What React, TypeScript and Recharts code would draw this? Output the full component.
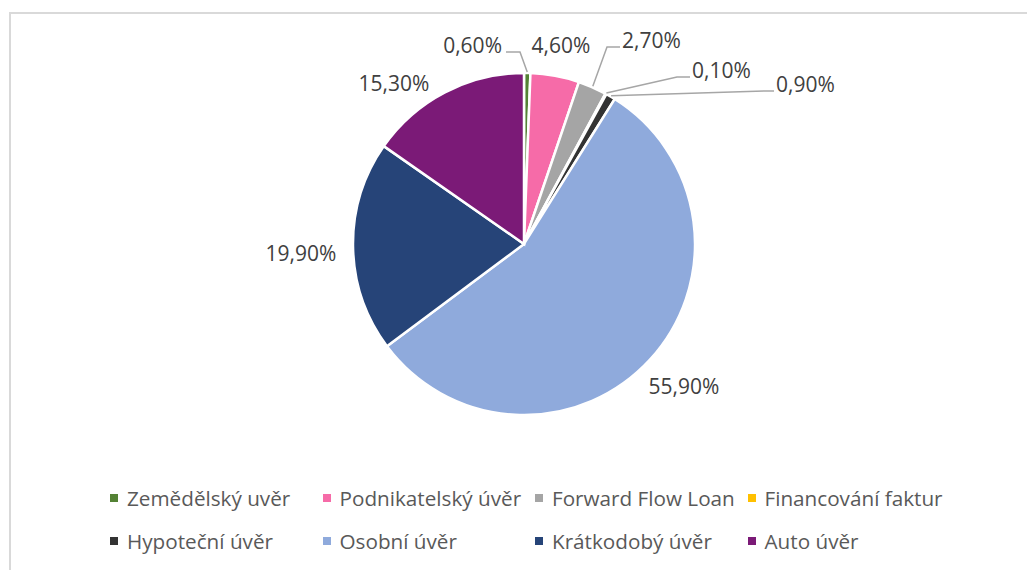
import { Pie, PieChart, Cell, Legend } from "recharts";

const categories = [
  "Zemědělský úvěr",
  "Podnikatelský úvěr",
  "Forward Flow Loan",
  "Financování faktur",
  "Hypoteční úvěr",
  "Osobní úvěr",
  "Krátkodobý úvěr",
  "Auto úvěr",
];
// legend shows "Zemědělský uvěr" as written in the source
const legendNames = [
  "Zemědělský uvěr",
  "Podnikatelský úvěr",
  "Forward Flow Loan",
  "Financování faktur",
  "Hypoteční úvěr",
  "Osobní úvěr",
  "Krátkodobý úvěr",
  "Auto úvěr",
];
const shares = [0.6, 4.6, 2.7, 0.1, 0.9, 55.9, 19.9, 15.3];
const colors = ["#548235", "#F66BA8", "#A5A5A5", "#FFC000", "#333333", "#8FAADC", "#264478", "#7B1A77"];

const data = categories.map((name, i) => ({ name, value: shares[i] }));

const CX = 524;
const CY = 244;
const R = 171;
const FONT = "'Open Sans', sans-serif";
const RADIAN = Math.PI / 180;

// label placement relative to pie centre: text anchor point + optional leader elbow
const LABEL_LAYOUT = [
  { x: -22, y: -191, anchor: "end", line: [[-4, -192], [-18, -192]] },
  { x: 37, y: -191, anchor: "middle" },
  { x: 98, y: -196, anchor: "start", line: [[83, -197], [96, -197]] },
  { x: 168, y: -166, anchor: "start", line: [[153, -167], [166, -167]] },
  { x: 252, y: -152, anchor: "start", line: [[240, -153], [250, -153]] },
  { x: 160, y: 150, anchor: "middle" },
  { x: -223, y: 17, anchor: "middle" },
  { x: -130, y: -153, anchor: "middle" },
];

const fmt = (v: number) => v.toFixed(2).replace(".", ",") + "%";

const renderLabel = (props: any) => {
  const { cx, cy, midAngle, outerRadius, index, value } = props;
  const lay = LABEL_LAYOUT[index];
  const ax = cx + (outerRadius + 1) * Math.cos(-midAngle * RADIAN);
  const ay = cy + (outerRadius + 1) * Math.sin(-midAngle * RADIAN);
  let pts = "";
  if (lay.line) {
    pts = [[ax, ay], ...lay.line.map(([px, py]) => [cx + px, cy + py])].map((p) => p.join(",")).join(" ");
  }
  return (
    <g key={"lbl" + index}>
      {lay.line && <polyline points={pts} fill="none" stroke="#A6A6A6" strokeWidth={1.5} />}
      <text x={cx + lay.x} y={cy + lay.y} textAnchor={lay.anchor} fill="#404040" fontSize={21} fontFamily={FONT}>
        {fmt(value)}
      </text>
    </g>
  );
};

const renderLegend = () => (
  <div style={{ position: "relative", width: 1027, height: 90 }}>
    {legendNames.map((name, i) => {
      const col = i % 4;
      const row = Math.floor(i / 4);
      return (
        <div
          key={name}
          style={{
            position: "absolute",
            left: 110 + col * 212.5,
            top: row * 43,
            display: "flex",
            alignItems: "center",
            whiteSpace: "nowrap",
            fontFamily: FONT,
            fontSize: 20.7,
            color: "#595959",
            lineHeight: "28px",
          }}
        >
          <span style={{ width: 8, height: 8, background: colors[i], display: "inline-block", marginRight: 9 }} />
          {name}
        </div>
      );
    })}
  </div>
);

export default function App() {
  return (
    <div style={{ position: "fixed", left: 0, top: 0, width: 1027, height: 570, overflow: "hidden", background: "#fff" }}>
      <div
        style={{
          position: "absolute",
          left: 9,
          top: 12,
          width: 1100,
          height: 700,
          border: "2px solid #D9D9D9",
        }}
      />
      <div style={{ position: "absolute", left: 0, top: 0 }}>
        <PieChart width={1027} height={570} margin={{ top: 0, right: 0, bottom: 0, left: 0 }}>
          <Pie
            data={data}
            dataKey="value"
            nameKey="name"
            cx={CX}
            cy={CY}
            outerRadius={R}
            startAngle={90}
            endAngle={-270}
            stroke="#fff"
            strokeWidth={2.5}
            label={renderLabel}
            labelLine={false}
            isAnimationActive={false}
          >
            {data.map((d, i) => (
              <Cell key={d.name} fill={colors[i]} />
            ))}
          </Pie>
          <Legend content={renderLegend} wrapperStyle={{ position: "absolute", left: 0, top: 484, width: 1027 }} />
        </PieChart>
      </div>
    </div>
  );
}
